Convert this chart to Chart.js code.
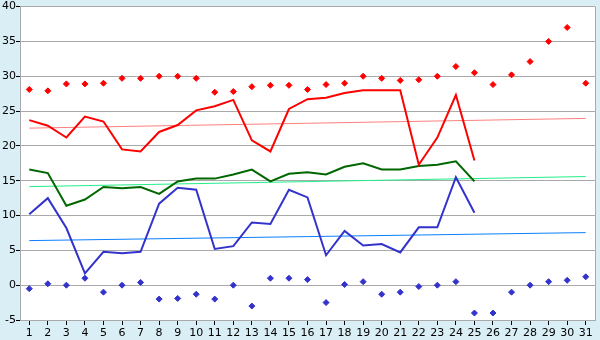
<!DOCTYPE html>
<html>
<head>
<meta charset="utf-8">
<script src="https://cdn.jsdelivr.net/npm/chart.js@4/dist/chart.umd.min.js"></script>
<style>
  html, body { margin: 0; padding: 0; background: #daeef6; }
  #wrap { width: 600px; height: 340px; }
</style>
</head>
<body>
<div id="wrap"><canvas id="c" width="600" height="340"></canvas></div>
<script>
// ---- data ----
const days = ["1","2","3","4","5","6","7","8","9","10","11","12","13","14","15","16","17","18","19","20","21","22","23","24","25","26","27","28","29","30","31"];

const dayMax = [23.7, 22.9, 21.2, 24.2, 23.5, 19.5, 19.2, 22.0, 23.0, 25.1, 25.7, 26.6, 20.8, 19.2, 25.3, 26.7, 26.9, 27.6, 28.0, 28.0, 28.0, 17.3, 21.2, 27.3, 17.9];
const dayMean = [16.6, 16.1, 11.4, 12.3, 14.1, 13.9, 14.1, 13.1, 14.9, 15.3, 15.3, 15.9, 16.6, 14.9, 16.0, 16.2, 15.9, 17.0, 17.5, 16.6, 16.6, 17.1, 17.3, 17.8, 14.9];
const dayMin = [10.2, 12.5, 8.2, 1.7, 4.8, 4.6, 4.8, 11.7, 14.0, 13.7, 5.2, 5.6, 9.0, 8.8, 13.7, 12.6, 4.3, 7.8, 5.7, 5.9, 4.7, 8.3, 8.3, 15.5, 10.4];

const recordMax = [28.1, 27.9, 28.9, 28.9, 29.0, 29.7, 29.7, 30.0, 30.0, 29.7, 27.7, 27.8, 28.5, 28.7, 28.7, 28.1, 28.8, 29.0, 30.0, 29.7, 29.4, 29.5, 30.0, 31.4, 30.5, 28.8, 30.2, 32.1, 35.0, 37.0, 29.0];
const recordMin = [-0.5, 0.2, 0.0, 1.0, -1.0, 0.0, 0.4, -2.0, -1.9, -1.3, -2.0, 0.0, -3.0, 1.0, 1.0, 0.8, -2.5, 0.1, 0.5, -1.3, -1.0, -0.2, 0.0, 0.5, -4.0, -4.0, -1.0, 0.0, 0.5, 0.7, 1.2];

// trend lines: value at day 1 and day 31
const trendMax  = [22.55, 23.95];
const trendMean = [14.15, 15.6];
const trendMin  = [6.4, 7.55];

const yTicks = { min: -5, max: 40, step: 5 };

function endpoints(pair) {
  const a = new Array(days.length).fill(null);
  a[0] = pair[0];
  a[days.length - 1] = pair[1];
  return a;
}

const bgPlugin = {
  id: 'bg',
  beforeDraw(chart) {
    const { ctx, chartArea: a } = chart;
    ctx.save();
    ctx.fillStyle = '#daeef6';
    ctx.fillRect(0, 0, chart.width, chart.height);
    ctx.fillStyle = '#ffffff';
    ctx.fillRect(a.left, a.top, a.right - a.left, a.bottom - a.top);
    ctx.restore();
  },
  beforeDatasetsDraw(chart) {
    const { ctx, chartArea: a } = chart;
    ctx.save();
    ctx.strokeStyle = '#aaaaaa';
    ctx.lineWidth = 1;
    ctx.beginPath();
    ctx.moveTo(Math.round(a.right) + 0.5, a.top);
    ctx.lineTo(Math.round(a.right) + 0.5, a.bottom);
    ctx.stroke();
    ctx.restore();
  }
};

Chart.defaults.font.family = '"DejaVu Sans", Verdana, sans-serif';
Chart.defaults.font.size = 11;
Chart.defaults.color = '#000000';

new Chart(document.getElementById('c'), {
  type: 'line',
  data: {
    labels: days,
    datasets: [
      { data: dayMax, borderColor: '#ff0000', borderWidth: 2, pointRadius: 0, fill: false, tension: 0 },
      { data: dayMean, borderColor: '#006600', borderWidth: 2, pointRadius: 0, fill: false, tension: 0 },
      { data: dayMin, borderColor: '#3333cc', borderWidth: 2, pointRadius: 0, fill: false, tension: 0 },
      { data: recordMax, showLine: false, pointStyle: 'rectRot', pointRadius: 3, backgroundColor: '#ff0000', borderColor: '#ff0000', borderWidth: 1 },
      { data: recordMin, showLine: false, pointStyle: 'rectRot', pointRadius: 3, backgroundColor: '#3333cc', borderColor: '#3333cc', borderWidth: 1 },
      { data: endpoints(trendMax), spanGaps: true, borderColor: '#ff8080', borderWidth: 1, pointRadius: 0, fill: false },
      { data: endpoints(trendMean), spanGaps: true, borderColor: '#22f088', borderWidth: 1, pointRadius: 0, fill: false },
      { data: endpoints(trendMin), spanGaps: true, borderColor: '#0a80ff', borderWidth: 1, pointRadius: 0, fill: false }
    ]
  },
  options: {
    responsive: false,
    animation: false,
    devicePixelRatio: 1,
    layout: { padding: { top: 5, right: 5, left: 0, bottom: 0 } },
    plugins: { legend: { display: false }, tooltip: { enabled: false } },
    scales: {
      x: {
        offset: true,
        grid: { offset: false, drawOnChartArea: false, tickLength: 5, tickColor: '#000000' },
        border: { color: '#aaaaaa' },
        ticks: { padding: 2, maxRotation: 0, autoSkip: false },
        afterFit(s) { s.height = 20; }
      },
      y: {
        min: yTicks.min, max: yTicks.max,
        grid: { color: '#aaaaaa', tickLength: 4, tickColor: '#000000' },
        border: { color: '#aaaaaa' },
        ticks: { stepSize: yTicks.step, padding: 0 },
        afterFit(s) { s.width = 20; }
      }
    }
  },
  plugins: [bgPlugin]
});
</script>
</body>
</html>
